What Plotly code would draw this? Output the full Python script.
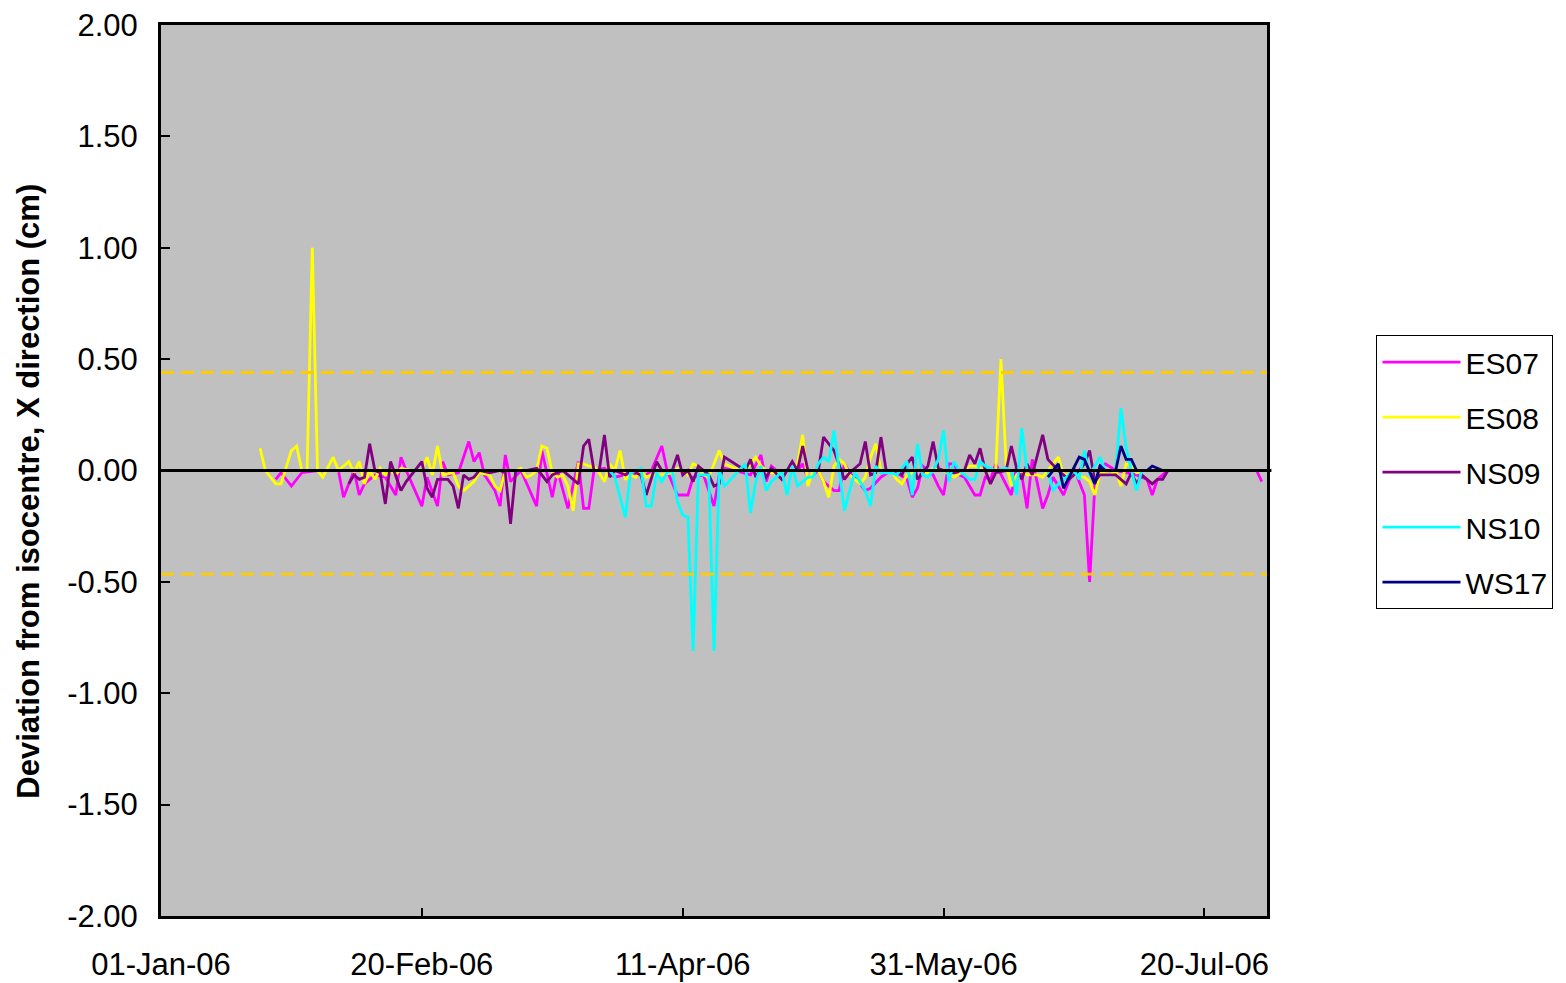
import pandas as pd
import plotly.graph_objects as go

START = pd.Timestamp("2006-01-01")

# ---- data (day offsets from 01-Jan-06, deviation in cm) ----
es07_days = [22, 23, 25, 27, 30, 34, 35, 37, 38, 39, 41, 43, 45, 46, 47, 50, 51, 53, 54, 55, 57, 59, 60, 61, 62, 64, 65,
             66, 67, 69, 72, 73, 75, 76, 78, 80, 81, 82, 83, 85, 87, 89, 91, 93, 94, 96, 97, 99, 100, 101, 102, 104, 106,
             107, 108, 110, 113, 115, 116, 117, 118, 120, 122, 123, 124, 126, 127, 129, 130, 131, 132, 134, 135, 136, 138,
             140, 141, 143, 144, 145, 146, 148, 149, 150, 151, 152, 153, 154, 156, 157, 158, 159, 160, 163, 164, 165, 166,
             167, 169, 170, 171, 173, 174, 175, 176, 177, 178, 179, 180, 181, 183, 185, 187, 189, 190, 191, 192, 193, 210, 211]
es07_vals = [-0.04, -0.01, -0.07, -0.01, 0.0, 0.0, -0.12, 0.0, -0.11, -0.06, -0.02, -0.03, -0.11, 0.06, 0.0, -0.16, -0.03,
             -0.16, 0.04, -0.02, -0.01, 0.13, 0.04, 0.08, -0.02, -0.09, -0.16, 0.07, -0.05, 0.0, -0.16, 0.09, -0.12, 0.0,
             -0.17, 0.04, -0.17, -0.17, 0.0, 0.01, -0.03, -0.02, -0.02, -0.02, 0.0, 0.11, 0.0, -0.11, -0.11, -0.11, -0.03,
             -0.02, -0.16, -0.02, 0.01, 0.0, -0.02, 0.07, -0.05, 0.02, 0.0, 0.0, 0.0, 0.03, -0.04, 0.0, -0.05, -0.09, -0.09,
             0.03, -0.01, -0.06, -0.09, -0.08, -0.03, 0.0, -0.01, -0.04, -0.12, -0.08, 0.02, -0.02, -0.07, -0.11, 0.03,
             0.03, -0.02, -0.03, -0.11, -0.11, -0.03, -0.04, 0.03, -0.11, 0.02, -0.02, -0.17, 0.05, -0.17, -0.11, -0.03,
             -0.11, -0.05, 0.01, -0.05, -0.11, -0.50, -0.07, 0.02, 0.03, 0.0, -0.01, -0.02, -0.04, -0.11, -0.04, -0.02,
             0.0, 0.0, -0.05]

es08_days = [19, 20, 22, 23, 25, 26, 27, 28, 29, 30, 31, 33, 34, 36, 37, 38, 39, 40, 41, 42, 43, 44, 45, 46, 48, 50, 51,
             52, 53, 54, 56, 57, 58, 60, 61, 63, 64, 65, 66, 67, 68, 69, 70, 71, 72, 73, 74, 75, 76, 77, 78, 79, 80, 81,
             82, 83, 84, 85, 86, 87, 88, 89, 90, 91, 92, 93, 94, 96, 98, 99, 100, 101, 102, 103, 104, 105, 106, 107, 108,
             110, 112, 113, 114, 115, 116, 117, 119, 120, 121, 122, 123, 124, 125, 126, 127, 128, 129, 130, 131, 132, 134,
             135, 136, 137, 138, 140, 141, 142, 143, 145, 147, 148, 150, 152, 154, 155, 156, 158, 160, 161, 162, 163, 164,
             165, 166, 168, 169, 170, 172, 173, 175, 177, 178, 179, 180, 182, 183, 184, 185, 186, 187, 188]
es08_vals = [0.10, 0.0, -0.06, -0.06, 0.09, 0.11, 0.0, 0.0, 1.0, 0.0, -0.03, 0.06, 0.0, 0.04, -0.01, 0.04, -0.06, 0.0,
             -0.04, 0.01, -0.02, 0.0, -0.02, 0.01, 0.0, 0.0, 0.06, -0.02, 0.11, -0.02, -0.01, -0.07, -0.09, -0.05, -0.01,
             -0.02, -0.07, -0.09, 0.0, 0.0, 0.0, 0.01, -0.03, -0.02, 0.0, 0.11, 0.10, -0.01, -0.03, -0.02, -0.07, -0.18,
             0.03, 0.03, 0.02, 0.02, -0.01, -0.05, 0.03, 0.0, 0.09, -0.04, -0.02, -0.03, 0.0, -0.03, -0.02, -0.02, -0.01,
             0.01, 0.0, -0.02, 0.03, 0.02, -0.02, -0.03, 0.03, 0.09, 0.03, 0.01, 0.0, 0.03, 0.06, 0.02, 0.0, -0.01, -0.01,
             0.0, 0.01, 0.03, 0.16, -0.07, 0.0, 0.0, -0.05, -0.12, 0.02, 0.05, 0.03, -0.02, -0.06, -0.03, 0.06, 0.12, 0.0,
             0.0, -0.04, -0.06, -0.02, 0.0, -0.01, 0.01, 0.0, -0.03, 0.0, 0.02, 0.02, 0.0, 0.0, 0.50, 0.03, -0.07, -0.02,
             0.0, -0.02, -0.02, -0.03, 0.0, 0.06, -0.02, -0.02, -0.03, -0.05, -0.11, -0.01, -0.02, 0.0, -0.07, 0.03, 0.02,
             -0.01, 0.0]

ns09_days = [36, 37, 38, 39, 40, 41, 42, 43, 44, 45, 46, 47, 48, 50, 51, 52, 53, 55, 56, 57, 58, 59, 60, 61, 63, 65, 66,
             67, 68, 70, 72, 74, 75, 77, 79, 80, 81, 82, 83, 84, 85, 86, 87, 89, 90, 92, 93, 95, 96, 98, 99, 100, 101, 102,
             103, 104, 105, 106, 107, 108, 110, 112, 113, 114, 115, 116, 117, 119, 121, 122, 123, 124, 126, 127, 128, 129,
             131, 132, 134, 135, 136, 137, 138, 139, 141, 142, 143, 144, 145, 147, 148, 149, 150, 152, 154, 155, 156, 157,
             158, 159, 160, 162, 163, 164, 165, 166, 167, 169, 170, 172, 174, 176, 177, 178, 179, 180, 182, 183, 185, 186,
             187, 188, 190, 191, 192, 193]
ns09_vals = [-0.06, -0.02, -0.04, -0.03, 0.12, 0.0, -0.01, -0.15, 0.04, -0.03, -0.09, -0.05, -0.02, 0.04, -0.08, -0.12,
             -0.04, -0.04, -0.07, -0.17, -0.02, -0.04, -0.03, 0.0, -0.01, 0.0, -0.01, -0.24, 0.0, 0.0, 0.01, -0.05, -0.02,
             0.0, -0.04, -0.06, 0.11, 0.14, 0.0, 0.0, 0.16, -0.03, 0.0, -0.02, 0.0, -0.02, -0.11, 0.04, 0.0, 0.0, 0.07,
             -0.02, 0.0, -0.05, 0.02, 0.0, -0.02, -0.07, -0.06, 0.06, 0.03, 0.0, 0.05, -0.03, 0.01, -0.03, 0.01, -0.04,
             0.04, 0.0, 0.11, 0.0, 0.0, 0.15, 0.12, 0.09, -0.04, -0.01, 0.03, 0.13, -0.02, -0.01, 0.15, 0.0, 0.0, -0.02,
             0.03, 0.06, -0.04, 0.02, 0.13, 0.01, 0.0, -0.01, 0.0, 0.07, 0.03, 0.10, 0.0, -0.06, -0.01, 0.0, 0.11, 0.01,
             -0.04, 0.03, -0.02, 0.16, 0.05, 0.0, -0.04, 0.0, 0.03, 0.09, -0.05, -0.02, -0.02, -0.02, -0.06, -0.01, -0.06,
             -0.02, -0.06, -0.04, -0.04, 0.0]

ns10_days = [86, 87, 89, 90, 91, 92, 93, 94, 95, 96, 97, 98, 99, 100, 101, 102, 103, 105, 106, 107, 108, 110, 112, 113,
             114, 115, 116, 117, 118, 119, 120, 121, 122, 124, 125, 126, 127, 128, 129, 130, 131, 132, 133, 135, 136, 137,
             138, 140, 141, 143, 144, 145, 146, 147, 148, 149, 150, 151, 152, 153, 155, 156, 157, 158, 160, 162, 163, 164,
             165, 166, 168, 170, 171, 172, 174, 175, 176, 177, 178, 180, 181, 183, 184, 185, 186, 187, 188]
ns10_vals = [0.0, -0.03, -0.21, -0.01, 0.0, 0.01, -0.16, -0.16, -0.01, -0.05, -0.01, 0.0, -0.14, -0.20, -0.21, -0.81,
             -0.02, -0.02, -0.81, 0.0, -0.07, -0.02, 0.03, -0.19, -0.05, 0.02, -0.09, -0.05, -0.03, 0.0, -0.11, 0.02,
             -0.07, -0.03, -0.03, 0.03, 0.06, 0.04, 0.18, 0.0, -0.18, -0.09, -0.01, -0.09, -0.16, 0.02, -0.01, -0.01,
             -0.02, 0.04, -0.11, 0.12, -0.02, -0.03, 0.0, 0.05, 0.18, -0.05, 0.04, 0.0, -0.04, -0.04, 0.04, 0.02, 0.0,
             0.01, 0.0, -0.11, 0.19, 0.0, 0.0, 0.0, -0.09, -0.06, -0.02, 0.0, -0.04, 0.09, -0.02, 0.06, 0.0, 0.0, 0.28,
             0.10, 0.0, -0.09, 0.0]

ws17_days = [170, 172, 173, 176, 177, 179, 180, 181, 183, 184, 185, 186, 187, 189, 190, 192]
ws17_vals = [-0.03, 0.03, -0.08, 0.06, 0.05, -0.06, 0.02, 0.0, 0.0, 0.11, 0.05, 0.05, 0.0, 0.0, 0.02, 0.0]

upper_limit = 0.44
lower_limit = -0.465
zero_level = 0.0

x_tick_dates = ["2006-01-01", "2006-02-20", "2006-04-11", "2006-05-31", "2006-07-20"]
x_tick_text = ["01-Jan-06", "20-Feb-06", "11-Apr-06", "31-May-06", "20-Jul-06"]
y_tick_vals = [2.0, 1.5, 1.0, 0.5, 0.0, -0.5, -1.0, -1.5, -2.0]
y_tick_text = ["2.00", "1.50", "1.00", "0.50", "0.00", "-0.50", "-1.00", "-1.50", "-2.00"]
y_title = "Deviation from isocentre, X direction (cm)"

series = [
    ("ES07", es07_days, es07_vals, "#FF00FF"),
    ("ES08", es08_days, es08_vals, "#FFFF00"),
    ("NS09", ns09_days, ns09_vals, "#800080"),
    ("NS10", ns10_days, ns10_vals, "#00FFFF"),
    ("WS17", ws17_days, ws17_vals, "#000080"),
]

FONT = "Liberation Sans, Arial, sans-serif"

fig = go.Figure()
for name, days, vals, color in series:
    dates = START + pd.to_timedelta(days, unit="D")
    fig.add_trace(go.Scatter(x=dates, y=vals, mode="lines", name=name, legendgroup=name,
                             line=dict(color=color, width=2.8)))

for lvl in (upper_limit, lower_limit):
    fig.add_shape(type="line", xref="paper", x0=0, x1=1, yref="y", y0=lvl, y1=lvl,
                  line=dict(color="#FFCC00", width=2.8, dash="13px,7px"), layer="above")
fig.add_shape(type="line", xref="paper", x0=0, x1=1.004, yref="y", y0=zero_level, y1=zero_level,
              line=dict(color="black", width=3), layer="above")

fig.add_annotation(text="<b>" + y_title + "</b>", textangle=-90,
                   xref="paper", yref="paper", x=-0.12, y=0.4765,
                   xanchor="center", yanchor="middle", showarrow=False,
                   font=dict(size=31, family=FONT, color="black"))

fig.update_layout(
    width=1566, height=983,
    margin=dict(l=161, r=299, t=25, b=67, autoexpand=False),
    paper_bgcolor="white", plot_bgcolor="#C0C0C0",
    font=dict(family=FONT, size=31, color="black"),
    showlegend=True,
    legend=dict(x=1.099, xanchor="left", y=0.652, yanchor="top",
                bgcolor="white", bordercolor="black", borderwidth=1,
                font=dict(size=30), itemwidth=78, tracegroupgap=13),
    xaxis=dict(type="date", range=["2006-01-01", "2006-08-01"],
               tickvals=x_tick_dates, ticktext=x_tick_text, automargin=False,
               ticks="inside", ticklen=8, tickwidth=2, tickcolor="black",
               showline=True, linecolor="black", linewidth=3, mirror=True,
               showgrid=False, zeroline=False, ticklabelstandoff=19,
               tickfont=dict(size=31)),
    yaxis=dict(range=[-2, 2], tickvals=y_tick_vals, ticktext=y_tick_text, automargin=False,
               ticks="inside", ticklen=9, tickwidth=2, tickcolor="black",
               showline=True, linecolor="black", linewidth=3, mirror=True,
               showgrid=False, zeroline=False, ticklabelstandoff=14,
               tickfont=dict(size=31)),
)

fig.write_html("out.html")
